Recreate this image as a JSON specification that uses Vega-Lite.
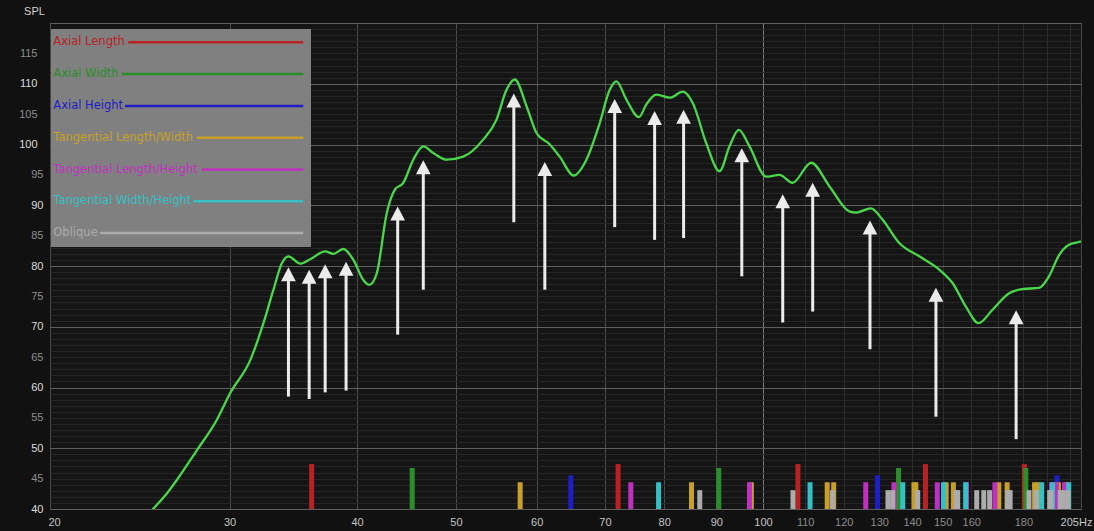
{
  "$schema": "https://vega.github.io/schema/vega-lite/v6.json",
  "width": 1031,
  "height": 486,
  "autosize": {"type": "none"},
  "padding": {"left": 50, "top": 23, "right": 13, "bottom": 22},
  "background": "#111111",
  "config": {
    "view": {"fill": "#151515", "stroke": "#555555", "strokeWidth": 1},
    "font": "Liberation Sans"
  },
  "datasets": {
    "modes": [
      {"f": 36.1, "type": "Axial Length", "lvl": 47.4},
      {"f": 72.1, "type": "Axial Length", "lvl": 47.4},
      {"f": 108.2, "type": "Axial Length", "lvl": 47.4},
      {"f": 144.3, "type": "Axial Length", "lvl": 47.4},
      {"f": 180.4, "type": "Axial Length", "lvl": 47.4},
      {"f": 45.3, "type": "Axial Width", "lvl": 46.75},
      {"f": 90.5, "type": "Axial Width", "lvl": 46.75},
      {"f": 135.8, "type": "Axial Width", "lvl": 46.75},
      {"f": 181.0, "type": "Axial Width", "lvl": 46.75},
      {"f": 64.8, "type": "Axial Height", "lvl": 45.55},
      {"f": 129.5, "type": "Axial Height", "lvl": 45.55},
      {"f": 194.2, "type": "Axial Height", "lvl": 45.55},
      {"f": 57.8, "type": "Tangential Length/Width", "lvl": 44.4},
      {"f": 85.1, "type": "Tangential Length/Width", "lvl": 44.4},
      {"f": 97.4, "type": "Tangential Length/Width", "lvl": 44.4},
      {"f": 115.6, "type": "Tangential Length/Width", "lvl": 44.4},
      {"f": 117.3, "type": "Tangential Length/Width", "lvl": 44.4},
      {"f": 140.6, "type": "Tangential Length/Width", "lvl": 44.4},
      {"f": 141.2, "type": "Tangential Length/Width", "lvl": 44.4},
      {"f": 151.2, "type": "Tangential Length/Width", "lvl": 44.4},
      {"f": 153.7, "type": "Tangential Length/Width", "lvl": 44.4},
      {"f": 170.3, "type": "Tangential Length/Width", "lvl": 44.4},
      {"f": 173.5, "type": "Tangential Length/Width", "lvl": 44.4},
      {"f": 184.6, "type": "Tangential Length/Width", "lvl": 44.4},
      {"f": 186.0, "type": "Tangential Length/Width", "lvl": 44.4},
      {"f": 194.8, "type": "Tangential Length/Width", "lvl": 44.4},
      {"f": 198.2, "type": "Tangential Length/Width", "lvl": 44.4},
      {"f": 74.2, "type": "Tangential Length/Height", "lvl": 44.4},
      {"f": 97.0, "type": "Tangential Length/Height", "lvl": 44.4},
      {"f": 126.1, "type": "Tangential Length/Height", "lvl": 44.4},
      {"f": 134.4, "type": "Tangential Length/Height", "lvl": 44.4},
      {"f": 148.2, "type": "Tangential Length/Height", "lvl": 44.4},
      {"f": 158.3, "type": "Tangential Length/Height", "lvl": 44.4},
      {"f": 168.8, "type": "Tangential Length/Height", "lvl": 44.4},
      {"f": 191.8, "type": "Tangential Length/Height", "lvl": 44.4},
      {"f": 193.9, "type": "Tangential Length/Height", "lvl": 44.4},
      {"f": 197.5, "type": "Tangential Length/Height", "lvl": 44.4},
      {"f": 79.0, "type": "Tangential Width/Height", "lvl": 44.4},
      {"f": 111.2, "type": "Tangential Width/Height", "lvl": 44.4},
      {"f": 137.1, "type": "Tangential Width/Height", "lvl": 44.4},
      {"f": 150.3, "type": "Tangential Width/Height", "lvl": 44.4},
      {"f": 158.0, "type": "Tangential Width/Height", "lvl": 44.4},
      {"f": 187.6, "type": "Tangential Width/Height", "lvl": 44.4},
      {"f": 192.2, "type": "Tangential Width/Height", "lvl": 44.4},
      {"f": 199.4, "type": "Tangential Width/Height", "lvl": 44.4},
      {"f": 86.7, "type": "Oblique", "lvl": 43.1},
      {"f": 107.0, "type": "Oblique", "lvl": 43.1},
      {"f": 117.0, "type": "Oblique", "lvl": 43.1},
      {"f": 132.6, "type": "Oblique", "lvl": 43.1},
      {"f": 134.0, "type": "Oblique", "lvl": 43.1},
      {"f": 141.8, "type": "Oblique", "lvl": 43.1},
      {"f": 154.7, "type": "Oblique", "lvl": 43.1},
      {"f": 155.2, "type": "Oblique", "lvl": 43.1},
      {"f": 162.0, "type": "Oblique", "lvl": 43.1},
      {"f": 164.6, "type": "Oblique", "lvl": 43.1},
      {"f": 166.8, "type": "Oblique", "lvl": 43.1},
      {"f": 173.7, "type": "Oblique", "lvl": 43.1},
      {"f": 174.7, "type": "Oblique", "lvl": 43.1},
      {"f": 182.3, "type": "Oblique", "lvl": 43.1},
      {"f": 185.3, "type": "Oblique", "lvl": 43.1},
      {"f": 191.0, "type": "Oblique", "lvl": 43.1},
      {"f": 191.5, "type": "Oblique", "lvl": 43.1},
      {"f": 195.6, "type": "Oblique", "lvl": 43.1},
      {"f": 197.0, "type": "Oblique", "lvl": 43.1},
      {"f": 199.1, "type": "Oblique", "lvl": 43.1}
    ],
    "curve": [
      {"f": 24.5, "spl": 37.6}, {"f": 25.27, "spl": 40.1}, {"f": 26.05, "spl": 42.6},
      {"f": 27.87, "spl": 49.7}, {"f": 29.15, "spl": 54.7}, {"f": 30.04, "spl": 59.1},
      {"f": 31.43, "spl": 64.5}, {"f": 32.38, "spl": 70.6}, {"f": 33.12, "spl": 76.1},
      {"f": 33.76, "spl": 80.5}, {"f": 34.26, "spl": 81.6}, {"f": 35.18, "spl": 80.4},
      {"f": 35.98, "spl": 81.1}, {"f": 37.22, "spl": 82.4}, {"f": 37.92, "spl": 82.0},
      {"f": 38.78, "spl": 82.8}, {"f": 39.67, "spl": 81.0}, {"f": 40.57, "spl": 77.7},
      {"f": 41.12, "spl": 76.9}, {"f": 41.82, "spl": 78.8}, {"f": 42.77, "spl": 88.7},
      {"f": 43.58, "spl": 92.6}, {"f": 44.4, "spl": 93.7}, {"f": 45.41, "spl": 97.5},
      {"f": 46.45, "spl": 99.7}, {"f": 47.51, "spl": 98.6}, {"f": 48.96, "spl": 97.5},
      {"f": 50.83, "spl": 98.0}, {"f": 53.17, "spl": 100.8}, {"f": 54.8, "spl": 104.1},
      {"f": 56.05, "spl": 109.0}, {"f": 57.11, "spl": 110.7}, {"f": 58.64, "spl": 106.3},
      {"f": 59.97, "spl": 101.9}, {"f": 61.8, "spl": 100.0}, {"f": 63.2, "spl": 98.0},
      {"f": 65.23, "spl": 94.9}, {"f": 67.13, "spl": 97.5}, {"f": 69.17, "spl": 103.5},
      {"f": 70.75, "spl": 109.0}, {"f": 71.83, "spl": 110.4}, {"f": 73.46, "spl": 107.4},
      {"f": 75.58, "spl": 104.5}, {"f": 76.85, "spl": 106.6}, {"f": 78.6, "spl": 108.2},
      {"f": 81.0, "spl": 107.7}, {"f": 83.46, "spl": 108.7}, {"f": 85.36, "spl": 106.8},
      {"f": 87.98, "spl": 100.2}, {"f": 90.66, "spl": 95.6}, {"f": 92.72, "spl": 99.7},
      {"f": 94.69, "spl": 102.4}, {"f": 97.0, "spl": 99.7}, {"f": 100.7, "spl": 94.7},
      {"f": 103.8, "spl": 95.0}, {"f": 106.9, "spl": 93.7}, {"f": 111.5, "spl": 97.0},
      {"f": 116.2, "spl": 93.1}, {"f": 121.5, "spl": 89.0}, {"f": 123.4, "spl": 88.8},
      {"f": 127.6, "spl": 89.5}, {"f": 131.0, "spl": 87.6}, {"f": 136.0, "spl": 83.8},
      {"f": 142.3, "spl": 81.6}, {"f": 148.9, "spl": 79.4}, {"f": 153.4, "spl": 77.2},
      {"f": 158.1, "spl": 73.3}, {"f": 162.7, "spl": 70.6}, {"f": 167.9, "spl": 72.8},
      {"f": 174.3, "spl": 75.5}, {"f": 179.6, "spl": 76.2}, {"f": 186.5, "spl": 76.4},
      {"f": 190.7, "spl": 78.3}, {"f": 195.1, "spl": 81.8}, {"f": 199.5, "spl": 83.5},
      {"f": 203.3, "spl": 83.9}, {"f": 205.0, "spl": 84.0}
    ],
    "arrows": [
      {"f": 34.26, "from": 58.5, "to": 79.8},
      {"f": 35.9, "from": 58.1, "to": 79.4},
      {"f": 37.22, "from": 59.2, "to": 80.3},
      {"f": 39.02, "from": 59.5, "to": 80.7},
      {"f": 43.84, "from": 68.7, "to": 89.8},
      {"f": 46.45, "from": 76.1, "to": 97.4},
      {"f": 56.98, "from": 87.2, "to": 108.4},
      {"f": 61.11, "from": 76.1, "to": 97.1},
      {"f": 71.55, "from": 86.4, "to": 107.5},
      {"f": 78.3, "from": 84.3, "to": 105.5},
      {"f": 83.59, "from": 84.6, "to": 105.7},
      {"f": 95.33, "from": 78.3, "to": 99.4},
      {"f": 104.56, "from": 70.7, "to": 91.8},
      {"f": 111.87, "from": 72.5, "to": 93.7},
      {"f": 127.32, "from": 66.3, "to": 87.5},
      {"f": 147.76, "from": 55.2, "to": 76.4},
      {"f": 177.07, "from": 51.5, "to": 72.7}
    ]
  },
  "layer": [
    {
      "data": {"name": "modes"},
      "mark": {"type": "rule", "strokeWidth": 5, "strokeCap": "butt"},
      "encoding": {
        "x": {
          "field": "f",
          "type": "quantitative",
          "scale": {"type": "log", "domain": [20, 205], "nice": false},
          "axis": {
            "values": [20, 30, 40, 50, 60, 70, 80, 90, 100, 110, 120, 130, 140, 150, 160, 170, 180, 190, 200, 205],
            "tickCount": 100,
            "labelExpr": "datum.value == 170 || datum.value == 190 || datum.value == 200 ? '' : datum.value == 205 ? '205Hz' : format(datum.value, 'd')",
            "title": null,
            "domain": false,
            "ticks": false,
            "grid": true,
            "gridWidth": 1,
            "gridColor": {"condition": [{"test": "datum.value == 100", "value": "#7a7a7a"}, {"test": "datum.value > 100 && datum.value < 205", "value": "#2e2e2e"}], "value": "#4a4a4a"},
            "labelColor": {"condition": {"test": "datum.value > 100 && datum.value < 205", "value": "#8c8c8c"}, "value": "#c4c4c4"},
            "labelOffset": {"condition": [{"test": "datum.value == 20", "value": 4}, {"test": "datum.value == 205", "value": -5}], "value": 0},
            "labelFont": "Liberation Sans",
            "labelFontSize": 11,
            "labelPadding": 7,
            "labelOverlap": false,
            "labelBound": false,
            "labelFlush": false
          }
        },
        "y": {
          "field": "lvl",
          "type": "quantitative",
          "title": "SPL",
          "scale": {"domain": [40, 120], "nice": false, "zero": false},
          "axis": {
            "values": [40,41,42,43,44,45,46,47,48,49,50,51,52,53,54,55,56,57,58,59,60,61,62,63,64,65,66,67,68,69,70,71,72,73,74,75,76,77,78,79,80,81,82,83,84,85,86,87,88,89,90,91,92,93,94,95,96,97,98,99,100,101,102,103,104,105,106,107,108,109,110,111,112,113,114,115,116,117,118,119,120],
            "tickCount": 200,
            "labelExpr": "datum.value % 5 == 0 && datum.value < 120 ? format(datum.value, 'd') : ''",
            "title": "SPL",
            "titleAngle": 0,
            "titleX": -16,
            "titleY": -11.5,
            "titleAlign": "center",
            "titleBaseline": "middle",
            "titleFont": "Liberation Sans",
            "titleFontSize": 11,
            "titleFontWeight": "normal",
            "titleColor": "#d0d0d0",
            "domain": false,
            "ticks": false,
            "grid": true,
            "gridWidth": 1,
            "gridColor": {"condition": {"test": "datum.value % 10 == 0", "value": "#5e5e5e"}, "value": "#262626"},
            "labelColor": {"condition": {"test": "datum.value % 10 == 0", "value": "#dcdcdc"}, "value": "#8e8e8e"},
            "labelPadding": {"condition": {"test": "datum.value >= 100", "value": 13}, "value": 7},
            "labelFont": "Liberation Sans",
            "labelFontSize": 11,
            "labelOverlap": false,
            "labelBound": false,
            "labelFlush": false
          }
        },
        "y2": {"datum": 40},
        "color": {
          "field": "type",
          "type": "nominal",
          "scale": {
            "domain": ["Axial Length", "Axial Width", "Axial Height", "Tangential Length/Width", "Tangential Length/Height", "Tangential Width/Height", "Oblique"],
            "range": ["#b82222", "#2a8f2a", "#1e1ec4", "#c8a028", "#c030c0", "#34c0c6", "#acacac"]
          },
          "legend": {
            "orient": "none",
            "legendX": 1,
            "legendY": 6,
            "zindex": 1,
            "title": null,
            "fillColor": "#808080",
            "padding": 2.3,
            "clipHeight": 22,
            "rowPadding": 9.8,
            "symbolType": "stroke",
            "symbolSize": 4,
            "symbolStrokeWidth": 2.5,
            "labelFont": "DejaVu Sans",
            "labelFontSize": 11.5,
            "labelLimit": 0,
            "labelAlign": "left",
            "labelBaseline": "middle",
            "encode": {
              "entries": {"update": {"width": {"value": 255}}},
              "labels": {"update": {"x": {"value": 0}, "fill": {"signal": "scale('color', datum.value)"}}},
              "symbols": {"update": {
                "x": {"value": 250},
                "shape": {"signal": "['M-175,0H0', 'M-181.6,0H0', 'M-178.3,0H0', 'M-106.6,0H0', 'M-101.6,0H0', 'M-110,0H0', 'M-203.3,0H0'][datum.index]"},
                "strokeWidth": {"value": 2.5}
              }}
            }
          }
        }
      }
    },
    {
      "data": {"name": "curve"},
      "mark": {"type": "line", "interpolate": "monotone", "color": "#4ad84a", "strokeWidth": 2.3, "clip": true},
      "encoding": {
        "x": {"field": "f", "type": "quantitative"},
        "y": {"field": "spl", "type": "quantitative", "title": "SPL"}
      }
    },
    {
      "data": {"name": "arrows"},
      "mark": {"type": "rule", "color": "#ebebeb", "strokeWidth": 3, "y2Offset": 10},
      "encoding": {
        "x": {"field": "f", "type": "quantitative"},
        "y": {"field": "from", "type": "quantitative", "title": "SPL"},
        "y2": {"field": "to"}
      }
    },
    {
      "data": {"name": "arrows"},
      "mark": {"type": "point", "shape": "M0,0L1.05,2L-1.05,2Z", "size": 196, "filled": true, "color": "#ebebeb", "opacity": 1, "strokeWidth": 0},
      "encoding": {
        "x": {"field": "f", "type": "quantitative"},
        "y": {"field": "to", "type": "quantitative", "title": "SPL"}
      }
    }
  ]
}
